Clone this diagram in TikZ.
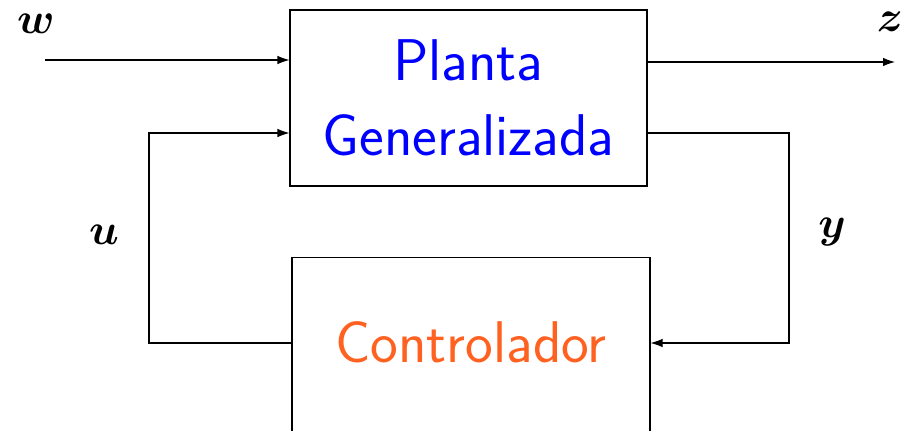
\documentclass[tikz,border=0pt]{standalone}
\usepackage{xcolor}
\usepackage{amsmath,bm}
\definecolor{plantBlue}{HTML}{0000FF}
\definecolor{ctrlOrange}{HTML}{FF6120}
\usepackage{tikz}
\usetikzlibrary{arrows.meta, positioning, calc}

\tikzset{
    blockbox/.style={draw, line width=0.6pt, minimum width=7.14cm, align=center,
        font=\sffamily\fontsize{33.5}{43}\selectfont},
    sig/.style={line width=0.6pt, -{Latex[length=2.4mm, width=1.7mm]}},
    siglabel/.style={font=\fontsize{32}{38}\selectfont}
}

\begin{document}
\begin{tikzpicture}
            \useasboundingbox (0,0) rectangle (18.16,-8.6);
            % Plant and controller blocks
            \node[blockbox, minimum height=3.52cm, text=plantBlue] (planta) at (9.37,-1.96) {Planta\\Generalizada};
            \node[blockbox, minimum width=7.16cm, minimum height=3.6cm, anchor=north, text=ctrlOrange,
                text depth=0.2cm] (ctrl) at (9.42,-5.14) {Controlador};
            \coordinate (win) at (0.9,-1.2);
            \coordinate (zout) at (17.9,-1.24);
            \coordinate (uc) at (2.98,-6.86);
            \coordinate (yc) at (15.78,-6.86);
            % signals
            \draw[sig] (win) -- (win -| planta.west);
            \draw[sig] (zout -| planta.east) -- (zout);
            \draw[sig] (uc -| ctrl.west) -- (uc) |- ($(planta.west)+(0,-0.7)$);
            \draw[sig] ($(planta.east)+(0,-0.7)$) -| (yc) -- (yc -| ctrl.east);
            \node[siglabel] (wlab) at (0.72,-0.48) {$\bm{w}$};
            \node[siglabel] (zlab) at (17.8,-0.44) {$\bm{z}$};
            \node[siglabel] (ulab) at (2.08,-4.7) {$\bm{u}$};
            \node[siglabel] (ylab) at (16.64,-4.64) {$\bm{y}$};
        \end{tikzpicture}
\end{document}
